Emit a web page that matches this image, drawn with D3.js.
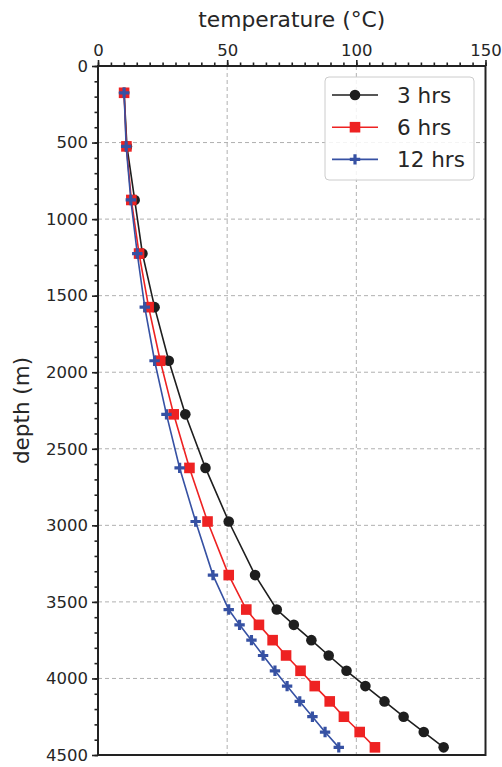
<!DOCTYPE html>
<html><head><meta charset="utf-8">
<script src="https://cdn.jsdelivr.net/npm/d3@7"></script>
<style>body{margin:0;background:#fff}svg{display:block}text{font-family:"DejaVu Sans",sans-serif;fill:#262626}</style>
</head><body><svg id="c" width="502" height="767"></svg>
<script>
const depths = [175,525,875,1225,1575,1925,2275,2625,2975,3325,3550,3650,3750,3850,3950,4050,4150,4250,4350,4450];
const temp3  = [10.1,11.2,14.2,17.2,21.9,27.4,33.8,41.6,50.6,60.8,69.2,75.8,82.6,89.3,96.2,103.5,110.9,118.3,126.1,133.8];
const temp6  = [10.1,11.0,12.9,15.9,19.6,24.1,29.3,35.4,42.4,50.6,57.4,62.3,67.6,72.8,78.4,83.9,89.7,95.2,101.3,107.2];
const temp12 = [10.1,10.9,12.7,15.2,18.1,21.9,26.5,31.6,37.8,44.5,50.6,54.8,59.4,63.9,68.5,73.2,78.1,83.0,87.9,93.2];
const seriesNames = ["3 hrs","6 hrs","12 hrs"];
const xTicks = [0,50,100,150];
const yTicks = [0,500,1000,1500,2000,2500,3000,3500,4000,4500];

const svg = d3.select("#c");
const L=98, R=485.5, T=66, B=755;
const x = d3.scaleLinear().domain([0,150]).range([L,R]);
const y = d3.scaleLinear().domain([0,4500]).range([T,B]);
const gridC="#b0b0b0", ink="#222";

// grid
const g = svg.append("g");
g.selectAll(".gx").data(xTicks.filter(d=>d>0&&d<150)).join("line")
 .attr("x1",d=>x(d)).attr("x2",d=>x(d)).attr("y1",T).attr("y2",B)
 .attr("stroke",gridC).attr("stroke-width",1).attr("stroke-dasharray","4,3");
g.selectAll(".gy").data(yTicks.filter(d=>d>0&&d<4500)).join("line")
 .attr("y1",d=>y(d)).attr("y2",d=>y(d)).attr("x1",L).attr("x2",R)
 .attr("stroke",gridC).attr("stroke-width",1).attr("stroke-dasharray","4,3");

// axes
const xAxis = d3.axisTop(x).tickValues(xTicks).tickSize(6).tickPadding(4);
const xMinor = d3.axisTop(x).tickValues(d3.range(0,151,5)).tickSize(3.5).tickFormat("");
const yAxis = d3.axisLeft(y).tickValues(yTicks).tickSize(6).tickPadding(4).tickFormat(d3.format("d"));
const yMinor = d3.axisLeft(y).tickValues(d3.range(0,4501,100)).tickSize(3.5).tickFormat("");
function style(sel){sel.select(".domain").remove();sel.selectAll("line").attr("stroke",ink).attr("stroke-width",1.6);
 sel.selectAll("text").attr("font-size","16.5px").attr("fill","#262626").style("font-family","DejaVu Sans");}
svg.append("g").attr("transform",`translate(0,${T})`).call(xMinor).call(style);
svg.append("g").attr("transform",`translate(0,${T})`).call(xAxis).call(style);
svg.append("g").attr("transform",`translate(${L},0)`).call(yMinor).call(style);
svg.append("g").attr("transform",`translate(${L},0)`).call(yAxis).call(style);

// series
const cols = ["#1e1e1e","#ee2222","#3651a3"];
const data = [temp3,temp6,temp12];
const line = d3.line().x(d=>x(d[0])).y(d=>y(d[1]));
const plusPath = "M-1.6,-5.2H1.6V-1.6H5.2V1.6H1.6V5.2H-1.6V1.6H-5.2V-1.6H-1.6Z";
function marker(sel,i,c){
  if(i===0) sel.append("circle").attr("r",5.3).attr("fill",c);
  else if(i===1) sel.append("rect").attr("x",-5.3).attr("y",-5.3).attr("width",10.6).attr("height",10.6).attr("fill",c);
  else sel.append("path").attr("d",plusPath).attr("fill",c);
}
data.forEach((vals,i)=>{
  const pts = vals.map((v,k)=>[v,depths[k]]);
  svg.append("path").datum(pts).attr("d",line).attr("fill","none").attr("stroke",cols[i]).attr("stroke-width",1.6);
  pts.forEach(p=>{ const m=svg.append("g").attr("transform",`translate(${x(p[0])},${y(p[1])})`); marker(m,i,cols[i]); });
});

// frame
svg.append("rect").attr("x",L).attr("y",T).attr("width",R-L).attr("height",B-T)
 .attr("fill","none").attr("stroke",ink).attr("stroke-width",2);

// labels
svg.append("text").attr("x",(L+R)/2).attr("y",27).attr("text-anchor","middle").attr("font-size","21.8px").text("temperature (°C)");
svg.append("text").attr("transform",`translate(29,${(T+B)/2}) rotate(-90)`).attr("text-anchor","middle").attr("font-size","21.5px").text("depth (m)");

// legend
const lg = svg.append("g");
lg.append("rect").attr("x",325).attr("y",77).attr("width",149).attr("height",103).attr("rx",4)
 .attr("fill","#fff").attr("fill-opacity",0.85).attr("stroke","#cccccc").attr("stroke-width",1);
seriesNames.forEach((n,i)=>{
  const yy = 95 + i*32.2;
  lg.append("line").attr("x1",332).attr("x2",378).attr("y1",yy).attr("y2",yy).attr("stroke",cols[i]).attr("stroke-width",1.6);
  const m = lg.append("g").attr("transform",`translate(355,${yy})`); marker(m,i,cols[i]);
  lg.append("text").attr("x",397).attr("y",yy+7.5).attr("font-size","21.5px").text(n);
});
</script></body></html>
